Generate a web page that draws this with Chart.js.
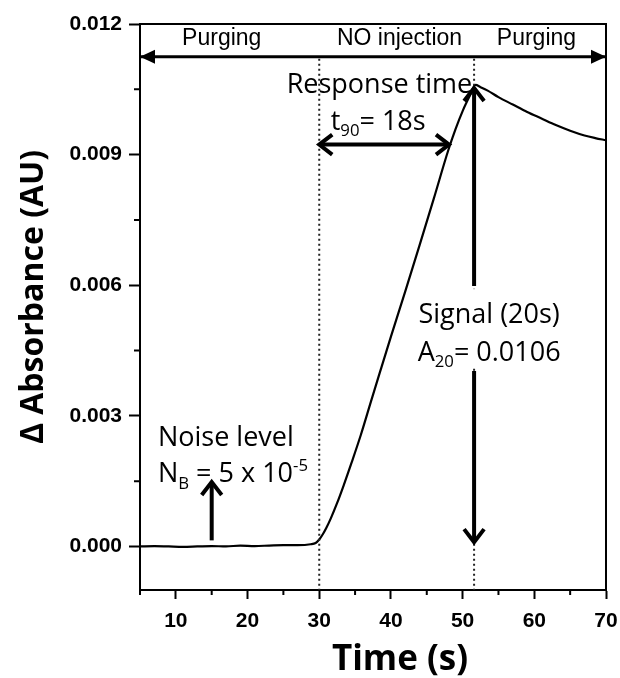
<!DOCTYPE html>
<html>
<head>
  <title>NO response</title>
  <script src="https://cdn.jsdelivr.net/npm/chart.js"></script>
  <style>
    body { margin: 0; background: #fff; }
    canvas { display: block; }
  </style>
</head>
<body>
  <canvas id="absChart" width="620" height="678"></canvas>

  <script>
    // trace: time (s) vs delta absorbance (AU)
    const timeS = [5, 7, 9, 11, 13, 15, 17, 19, 21, 23, 25, 27, 28.8, 29.5, 30,
      30.5, 31, 31.6, 32.5, 33.4, 34.5, 35.8, 37.2, 38.5, 40, 42, 44, 46, 48, 49,
      50, 51, 51.8, 52.5, 53.5, 55, 57, 59, 61, 63, 65, 67, 68.5, 70];
    const absorbance = [0, 0.00001, 0, -0.00001, 0, 0.00001, 0, 0.00002, 0.00001, 0.00002,
      0.00003, 0.00003, 0.00005, 0.00008, 0.00016, 0.00028, 0.00043, 0.00064, 0.001, 0.0014,
      0.00192, 0.00256, 0.00332, 0.00402, 0.00482, 0.00586, 0.00692, 0.008, 0.0091, 0.00958,
      0.01, 0.01035, 0.0106, 0.01055, 0.01047, 0.01032, 0.01015, 0.00998, 0.00983, 0.00968,
      0.00955, 0.00944, 0.00938, 0.00933];

    const xTicks = [10, 20, 30, 40, 50, 60, 70];
    const xMinor = [5, 15, 25, 35, 45, 55, 65];
    const yTicks = [0, 0.003, 0.006, 0.009, 0.012];
    const yMinor = [0.0015, 0.0045, 0.0075, 0.0105];

    // annotation anchors, in data units
    const phases = [['Purging', 16.4], ['NO injection', 41.2], ['Purging', 60.3]];
    const phaseTextY = 0.01152, phaseArrowY = 0.01125;
    const markTimes = [30, 51.6];          // NO on / signal read
    const t90Arrow = [30, 48.1, 0.00923];  // from, to, level
    const signalUp = [0.00598, 0.01053];
    const signalDown = [0.00403, 0.0001];
    const noiseArrow = [15, 0.00014, 0.00148];

    const OPEN = '"Open Sans"';

    function rich(ctx, parts, x, yb, size, align) {
      let w = 0;
      parts.forEach(([t, k]) => {
        ctx.font = (k ? size * 0.62 : size) + 'px ' + OPEN;
        w += ctx.measureText(t).width;
      });
      let cx = align === 'center' ? x - w / 2 : x;
      ctx.textAlign = 'left';
      ctx.textBaseline = 'alphabetic';
      parts.forEach(([t, k]) => {
        ctx.font = (k ? size * 0.62 : size) + 'px ' + OPEN;
        const dy = k === 1 ? size * 0.24 : k === 2 ? -size * 0.42 : 0;
        ctx.fillText(t, cx, yb + dy);
        cx += ctx.measureText(t).width;
      });
    }

    function head(ctx, tx, ty, fx, fy, filled) {
      const ang = Math.atan2(ty - fy, tx - fx);
      const len = filled ? 15 : 13, hw = filled ? 7 : 10;
      const bx = tx - len * Math.cos(ang), by = ty - len * Math.sin(ang);
      const px = -Math.sin(ang) * hw, py = Math.cos(ang) * hw;
      ctx.beginPath();
      ctx.moveTo(bx + px, by + py);
      ctx.lineTo(tx, ty);
      ctx.lineTo(bx - px, by - py);
      if (filled) { ctx.closePath(); ctx.fill(); } else ctx.stroke();
    }

    function arrow(ctx, x1, y1, x2, y2, lw, filled, both) {
      ctx.lineWidth = lw;
      ctx.lineCap = 'butt';
      ctx.lineJoin = 'miter';
      ctx.beginPath(); ctx.moveTo(x1, y1); ctx.lineTo(x2, y2); ctx.stroke();
      head(ctx, x2, y2, x1, y1, filled);
      if (both) head(ctx, x1, y1, x2, y2, filled);
    }

    const annotate = {
      id: 'annotate',
      afterDatasetsDraw(chart) {
        const { ctx, chartArea: a, scales: { x, y } } = chart;
        const X = v => x.getPixelForValue(v), Y = v => y.getPixelForValue(v);
        ctx.save();
        ctx.strokeStyle = '#000';
        ctx.fillStyle = '#000';

        // box top/right
        ctx.lineWidth = 2;
        ctx.beginPath();
        ctx.moveTo(a.left, a.top); ctx.lineTo(a.right, a.top); ctx.lineTo(a.right, a.bottom);
        ctx.stroke();

        // minor ticks
        ctx.beginPath();
        xMinor.forEach(v => { ctx.moveTo(X(v), a.bottom); ctx.lineTo(X(v), a.bottom + 5); });
        yMinor.forEach(v => { ctx.moveTo(a.left, Y(v)); ctx.lineTo(a.left - 6, Y(v)); });
        ctx.stroke();

        // dotted markers
        ctx.save();
        ctx.lineWidth = 2;
        ctx.strokeStyle = '#222';
        ctx.setLineDash([2, 3]);
        markTimes.forEach(t => {
          ctx.beginPath(); ctx.moveTo(X(t), Y(phaseArrowY) + 2); ctx.lineTo(X(t), a.bottom); ctx.stroke();
        });
        ctx.restore();

        // phase arrow and labels
        arrow(ctx, X(5), Y(phaseArrowY), X(70), Y(phaseArrowY), 3, true, true);
        ctx.font = '23px "Liberation Sans"';
        ctx.textAlign = 'center';
        ctx.textBaseline = 'alphabetic';
        phases.forEach(([t, v]) => ctx.fillText(t, X(v), Y(phaseTextY)));

        // response time
        arrow(ctx, X(t90Arrow[0]), Y(t90Arrow[2]), X(t90Arrow[1]), Y(t90Arrow[2]), 4, false, true);
        rich(ctx, [['Response time', 0]], X(38.4), Y(0.01041), 27, 'center');
        rich(ctx, [['t', 0], ['90', 1], ['= 18s', 0]], X(31.6), Y(0.00957), 27, 'left');

        // signal: text sits on a white patch over the marker line
        const sx = X(markTimes[1]);
        ctx.fillStyle = '#fff';
        ctx.fillRect(X(53.7) - 76, Y(signalUp[0]) + 3, 152, Y(signalDown[0]) - Y(signalUp[0]) - 6);
        ctx.fillStyle = '#000';
        arrow(ctx, sx, Y(signalUp[0]), sx, Y(signalUp[1]), 4, false, false);
        arrow(ctx, sx, Y(signalDown[0]), sx, Y(signalDown[1]), 4, false, false);
        rich(ctx, [['Signal (20s)', 0]], X(53.7), Y(0.00514), 27, 'center');
        rich(ctx, [['A', 0], ['20', 1], ['= 0.0106', 0]], X(53.7), Y(0.00426), 27, 'center');

        // noise
        arrow(ctx, X(noiseArrow[0]), Y(noiseArrow[1]), X(noiseArrow[0]), Y(noiseArrow[2]), 4, false, false);
        rich(ctx, [['Noise level', 0]], X(7.5), Y(0.00231), 27, 'left');
        rich(ctx, [['N', 0], ['B', 1], [' = 5 x 10', 0], ['-5', 2]], X(7.5), Y(0.00148), 27, 'left');

        // axis titles
        ctx.font = 'bold 35px ' + OPEN;
        ctx.textAlign = 'center';
        ctx.fillText('Time (s)', 400, 670);
        ctx.save();
        ctx.translate(34, 297);
        ctx.rotate(-Math.PI / 2);
        ctx.font = 'bold 32px ' + OPEN;
        ctx.textBaseline = 'middle';
        ctx.fillText('\u0394 Absorbance (AU)', 0, 0);
        ctx.restore();

        ctx.restore();
      }
    };

    const tickFont = { family: '"Liberation Sans"', size: 21, weight: 'bold' };

    new Chart(document.getElementById('absChart'), {
      type: 'line',
      data: {
        datasets: [{
          data: timeS.map((t, i) => ({ x: t, y: absorbance[i] })),
          borderColor: '#000',
          borderWidth: 2.2,
          pointRadius: 0,
          cubicInterpolationMode: 'monotone',
          fill: false
        }]
      },
      options: {
        responsive: false,
        animation: false,
        devicePixelRatio: 1,
        layout: { padding: { top: 24, right: 14, left: 0, bottom: 0 } },
        plugins: { legend: { display: false }, tooltip: { enabled: false } },
        scales: {
          x: {
            type: 'linear',
            min: 5, max: 70,
            afterBuildTicks: s => { s.ticks = xTicks.map(v => ({ value: v })); },
            afterFit: s => { s.height = 88; s.paddingLeft = 0; s.paddingRight = 0; },
            ticks: { font: tickFont, color: '#000', padding: 10, autoSkip: false, maxRotation: 0,
              callback: v => String(v) },
            grid: { drawOnChartArea: false, tickLength: 9, tickWidth: 2, tickColor: '#000' },
            border: { color: '#000', width: 2 }
          },
          y: {
            min: -0.001, max: 0.012,
            afterBuildTicks: s => { s.ticks = yTicks.map(v => ({ value: v })); },
            afterFit: s => { s.width = 140; s.paddingTop = 0; s.paddingBottom = 0; },
            ticks: { font: tickFont, color: '#000', padding: 7, autoSkip: false,
              callback: v => v.toFixed(3) },
            grid: { drawOnChartArea: false, tickLength: 11, tickWidth: 2, tickColor: '#000' },
            border: { color: '#000', width: 2 }
          }
        }
      },
      plugins: [annotate]
    });
  </script>
</body>
</html>
